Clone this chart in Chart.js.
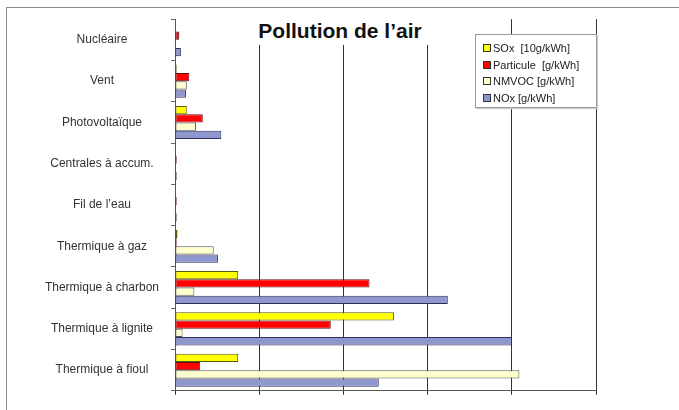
<!DOCTYPE html>
<html><head><meta charset="utf-8">
<script src="https://cdn.jsdelivr.net/npm/chart.js@4.4.1/dist/chart.umd.min.js"></script>
<style>
body{margin:0;background:#fff;font-family:Arial,"Liberation Sans",sans-serif}
#wrap{position:relative;width:679px;height:410px;overflow:hidden}
#frame{position:absolute;left:6px;top:7px;width:700px;height:420px;border-left:1.5px solid #8a8a8a;border-top:1.5px solid #8a8a8a}
#title{position:absolute;left:244px;top:17px;width:192px;height:28px;background:#fff;text-align:center;font-weight:bold;font-size:21px;line-height:28px;color:#111}
#legend{position:absolute;left:475px;top:34px;width:122px;height:74px;background:#fff;border:1px solid #999;box-shadow:1px 1px 1px #ccc;font-size:11px;color:#222;padding-top:5px;box-sizing:border-box}
.item{height:16.5px;line-height:16.5px;padding-left:7px;white-space:pre}
.sw{display:inline-block;width:6px;height:6px;border:1px solid #333;margin-right:2px;vertical-align:0px}
canvas{position:absolute;left:0;top:0}
</style></head>
<body>
<div id="wrap">
  <canvas id="c" width="679" height="410"></canvas>
  <div id="frame"></div>
  <div id="title">Pollution de l’air</div>
  <div id="legend"></div>
</div>
<script>
const categories = ['Nucléaire','Vent','Photovoltaïque','Centrales à accum.','Fil de l’eau','Thermique à gaz','Thermique à charbon','Thermique à lignite','Thermique à fioul'];
const seriesNames = ['SOx  [10g/kWh]','Particule  [g/kWh]','NMVOC [g/kWh]','NOx [g/kWh]'];
const sox       = [0.005,0.02,0.14,0,   0,   0.03,0.75,2.60,0.75];
const particule = [0.05, 0.17,0.33,0.02,0.02,0.02,2.31,1.85,0.30];
const nmvoc     = [0.01, 0.14,0.25,0,   0,   0.46,0.23,0.09,4.09];
const nox       = [0.07, 0.13,0.55,0.02,0.02,0.51,3.24,4.00,2.42];
const xTicks = [0,1,2,3,4,5];

const COLORS = ['#ffff00','#ff0000','#ffffcc','#8f97cf'];
const BORDERS = ['#5a5a10','#601010','#555','#2c2f5a'];

const datasets = [sox,particule,nmvoc,nox].map((d,i)=>({
  label:seriesNames[i], data:d, backgroundColor:COLORS[i], borderColor:BORDERS[i],
  borderWidth:1, borderSkipped:false, barPercentage:1, categoryPercentage:0.8
}));

document.getElementById('legend').innerHTML = seriesNames.map((n,i)=>
  `<div class="item"><span class="sw" style="background:${COLORS[i]}"></span>${n}</div>`).join('');

new Chart(document.getElementById('c'),{
  type:'bar',
  data:{labels:categories,datasets},
  options:{
    indexAxis:'y', responsive:false, animation:false,
    layout:{padding:{left:0,top:18,right:83,bottom:0}},
    plugins:{legend:{display:false},tooltip:{enabled:false},title:{display:false}},
    scales:{
      x:{min:xTicks[0],max:xTicks[xTicks.length-1],
         afterBuildTicks(s){ s.ticks = xTicks.map(v=>({value:v})); },
         ticks:{display:false},
         grid:{color:'#333',lineWidth:1,tickLength:4},
         border:{color:'#555'},
         afterFit(s){ s.height=13.5; }},
      y:{ticks:{crossAlign:'center',padding:12,color:'#333',font:{size:12,family:'Arial, "Liberation Sans", sans-serif'}},
         grid:{drawOnChartArea:false,tickLength:4,color:'#666'},
         border:{color:'#555'},
         afterFit(s){ s.width=175; }}
    }
  }
});
</script>
</body></html>
